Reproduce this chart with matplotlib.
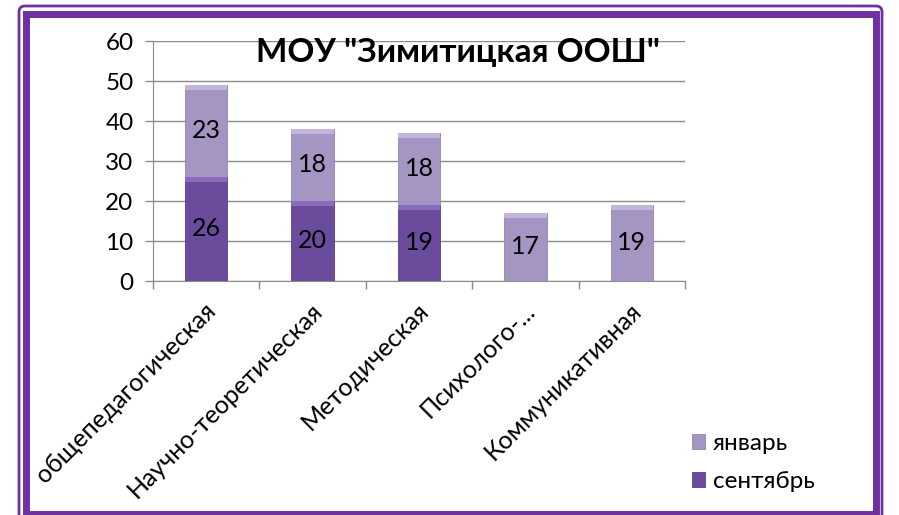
import numpy as np
import matplotlib.pyplot as plt
from matplotlib.patches import Rectangle, FancyBboxPatch

plt.rcParams['font.family'] = ['Lato', 'Open Sans', 'DejaVu Sans']

categories = ['общепедагогическая', 'Научно-теоретическая', 'Методическая',
              'Психолого-...', 'Коммуникативная']
september = [26, 20, 19, 0, 0]
january = [23, 18, 18, 17, 19]
title = 'МОУ "Зимитицкая ООШ"'

dark = '#6a4b9c'
light = '#a595c3'
frame = '#7030a0'

fig = plt.figure(figsize=(8.99, 5.15), dpi=100)

# frame drawn in pixel coordinates
bg = fig.add_axes([0, 0, 1, 1], zorder=-1)
bg.set_xlim(0, 899)
bg.set_ylim(515, 0)
bg.axis('off')
bg.add_patch(FancyBboxPatch((19, 6), 863, 520, boxstyle='round,pad=0,rounding_size=6',
                            fill=False, ec=frame, lw=2))
bg.add_patch(Rectangle((25.5, 13.5), 850, 500, fill=False, ec=frame, lw=5))

ax = fig.add_axes([153 / 899, 1 - 281 / 515, (685 - 153) / 899, (281 - 41) / 515])
x = np.arange(len(categories))
w = 0.4
b1 = ax.bar(x, september, w, color=dark, edgecolor='#5a3d8a', lw=0.6, label='сентябрь', zorder=3)
b2 = ax.bar(x, january, w, bottom=september, color=light, edgecolor='#9484b4', lw=0.6,
            label='январь', zorder=3)

# bevel highlights on top of each segment
for i in range(len(categories)):
    if september[i] > 0:
        ax.add_patch(Rectangle((x[i] - w / 2, september[i] - 1.2), w, 1.2,
                               color='#8a6cbc', lw=0, zorder=4))
    top = september[i] + january[i]
    ax.add_patch(Rectangle((x[i] - w / 2, top - 1.2), w, 1.2,
                           color='#c3b6dc', lw=0, zorder=4))

for i in range(len(categories)):
    if september[i] > 0:
        ax.text(x[i], september[i] / 2, str(september[i]), ha='center', va='center',
                fontsize=18, zorder=5)
    ax.text(x[i], september[i] + january[i] / 2, str(january[i]), ha='center',
            va='center', fontsize=18, zorder=5)

ax.set_xlim(-0.5, len(categories) - 0.5)
ax.set_ylim(0, 60)
ax.set_yticks(range(0, 61, 10))
ax.yaxis.grid(True, color='#8c8c8c', lw=1, zorder=0)
ax.set_xticks(np.arange(-0.5, len(categories), 1))
ax.set_xticklabels([])
ax.tick_params(axis='x', length=6, color='#8c8c8c', width=1)
ax.tick_params(axis='y', length=6, color='#8c8c8c', width=1, labelsize=17.5, pad=8)
for s in ['top', 'right']:
    ax.spines[s].set_visible(False)
for s in ['left', 'bottom']:
    ax.spines[s].set_color('#8c8c8c')

for i, c in enumerate(categories):
    ax.annotate(c, xy=(x[i], 0), xycoords='data', xytext=(6, -26),
                textcoords='offset pixels', rotation=45, rotation_mode='anchor',
                ha='right', va='center', fontsize=18)

ax.text(0.573, 0.954, title, transform=ax.transAxes, ha='center', va='center',
        fontsize=24, fontweight='bold', zorder=6)

leg = ax.legend(handles=[b2, b1], loc='upper left', bbox_to_anchor=(0.972, -0.542),
                frameon=False, fontsize=17.5, handlelength=0.55, handleheight=0.55,
                handletextpad=0.3, labelspacing=0.7)

fig.savefig('out.png', dpi=100)
